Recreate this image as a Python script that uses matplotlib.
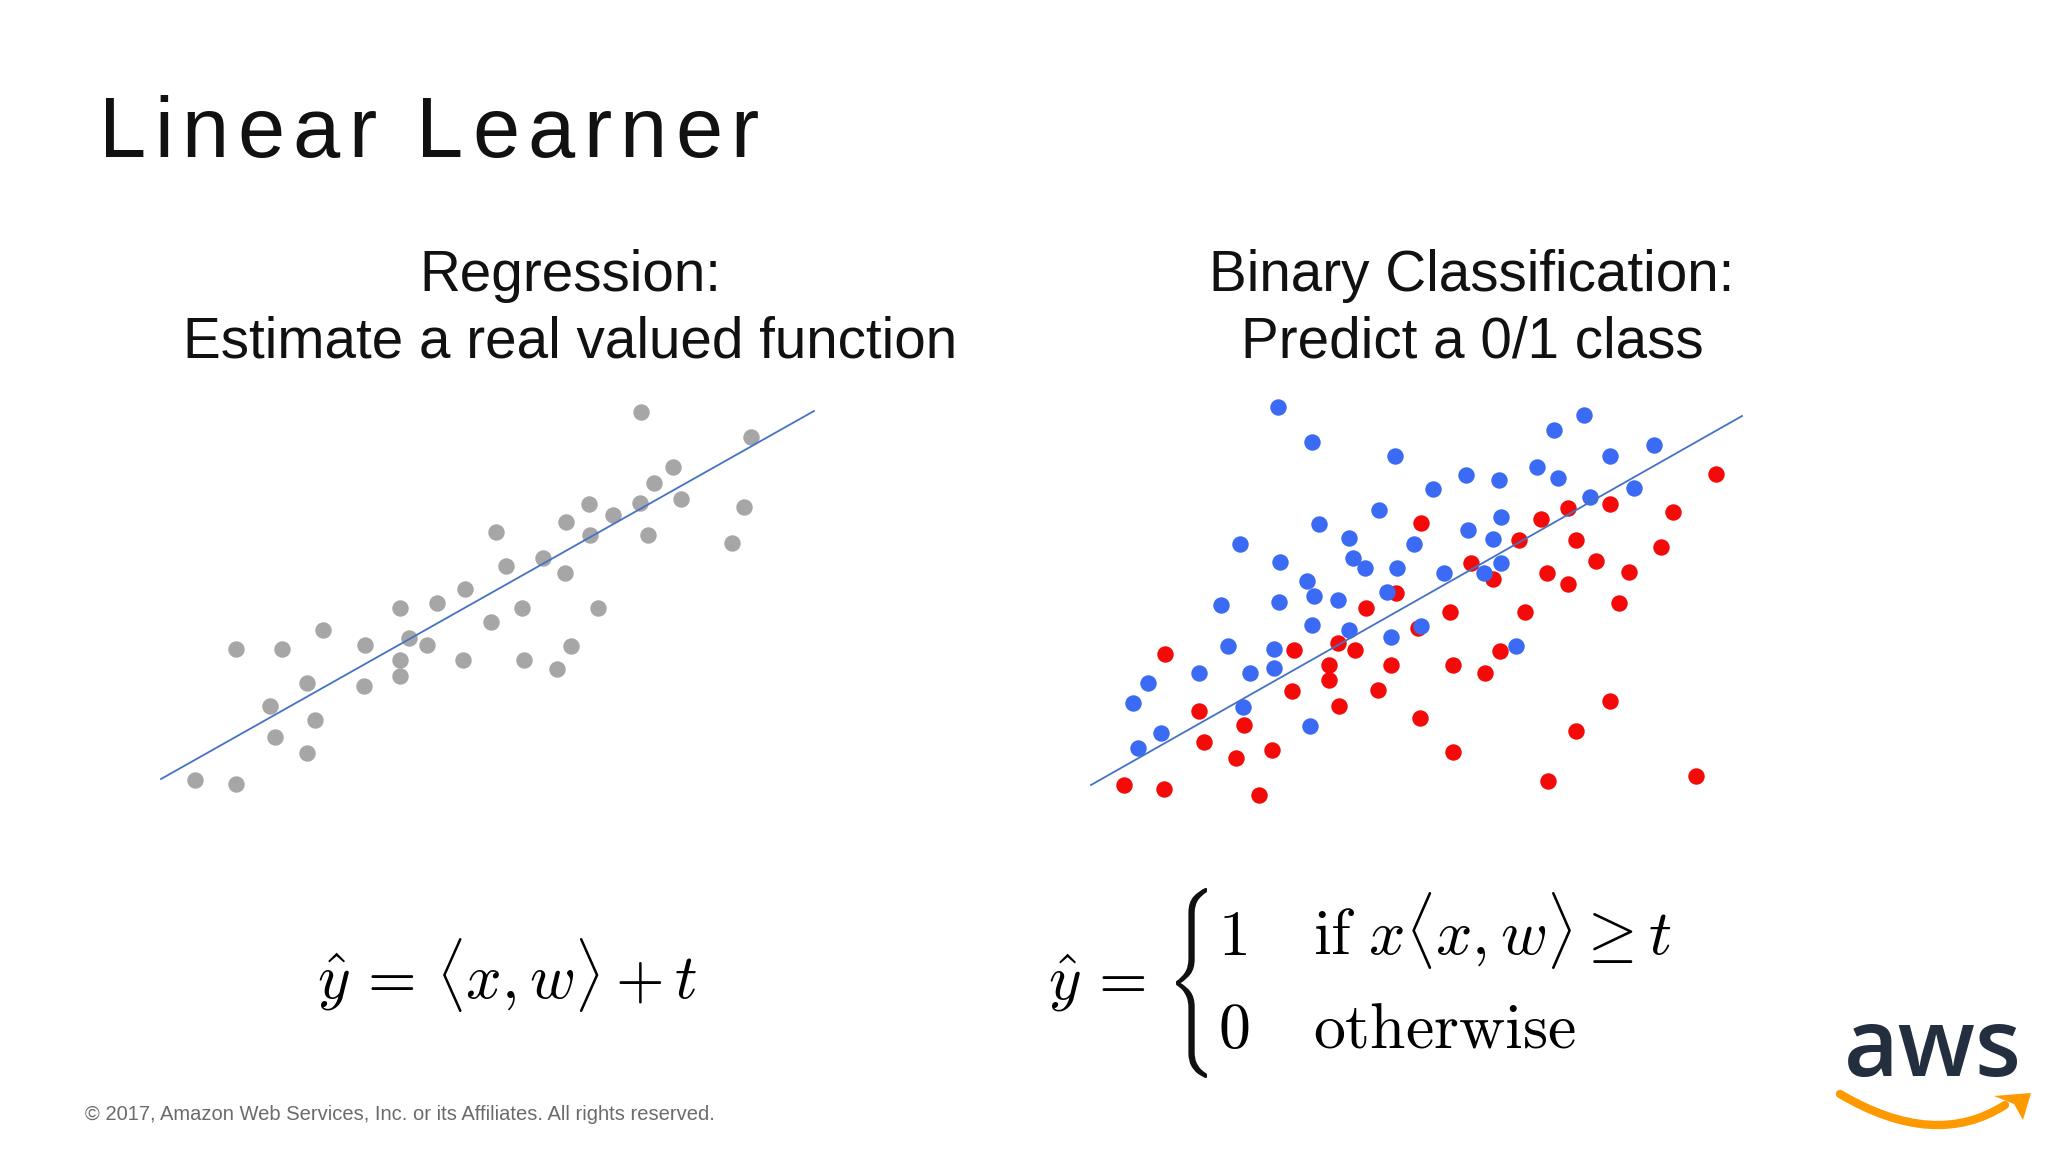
import matplotlib.pyplot as plt
from matplotlib.path import Path
from matplotlib.patches import PathPatch, Polygon
from matplotlib.textpath import TextPath
from matplotlib.font_manager import FontProperties
from matplotlib.transforms import Affine2D

plt.rcParams['mathtext.fontset'] = 'cm'

# positions, in slide pixels (x right, y down)
reg_x = [641, 751, 673, 654, 589, 640, 681, 744, 613, 566, 590, 648, 732, 496, 543,
         506, 565, 465, 437, 400, 522, 598, 491, 323, 409, 365, 427, 236, 282, 571,
         400, 463, 524, 557, 400, 307, 364, 270, 315, 275, 307, 195, 236]
reg_y = [412, 437, 467, 483, 504, 503, 499, 507, 515, 522, 535, 535, 543, 532, 558,
         566, 573, 589, 603, 608, 608, 608, 622, 630, 638, 645, 645, 649, 649, 646,
         660, 660, 660, 669, 676, 683, 686, 706, 720, 737, 753, 780, 784]
reg_line_x = [161, 814]
reg_line_y = [779, 411]

blue_x = [1278, 1312, 1395, 1554, 1584, 1654, 1610, 1537, 1558, 1466, 1499, 1433, 1634,
          1590, 1379, 1501, 1319, 1468, 1349, 1493, 1414, 1240, 1353, 1280, 1365, 1397,
          1501, 1444, 1484, 1307, 1314, 1338, 1387, 1221, 1279, 1312, 1421, 1349, 1391,
          1228, 1274, 1516, 1199, 1250, 1274, 1148, 1133, 1243, 1310, 1161, 1138]
blue_y = [407, 442, 456, 430, 415, 445, 456, 467, 478, 475, 480, 489, 488, 497, 510,
          517, 524, 530, 538, 539, 544, 544, 558, 562, 568, 568, 563, 573, 573, 581,
          596, 600, 592, 605, 602, 625, 626, 630, 637, 646, 649, 646, 673, 673, 668,
          683, 703, 707, 726, 733, 748]
red_x = [1716, 1610, 1568, 1673, 1541, 1421, 1519, 1576, 1661, 1596, 1471, 1547, 1629,
         1493, 1568, 1396, 1619, 1366, 1450, 1525, 1418, 1338, 1294, 1355, 1500, 1165,
         1329, 1391, 1453, 1485, 1329, 1292, 1378, 1610, 1199, 1339, 1244, 1420, 1576,
         1204, 1272, 1236, 1453, 1548, 1696, 1124, 1164, 1259]
red_y = [474, 504, 508, 512, 519, 523, 540, 540, 547, 561, 563, 573, 572, 579, 584,
         593, 603, 608, 612, 612, 628, 643, 650, 650, 651, 654, 665, 665, 665, 673,
         680, 691, 690, 701, 711, 706, 725, 718, 731, 742, 750, 758, 752, 781, 776,
         785, 789, 795]
cls_line_x = [1091, 1742]
cls_line_y = [785, 416]

fig = plt.figure(figsize=(20.48, 11.52), dpi=100)
ax = fig.add_axes([0, 0, 1, 1])
ax.set_xlim(0, 2048)
ax.set_ylim(1152, 0)
ax.axis('off')

dot = 140
ax.scatter(reg_x, reg_y, s=dot, color='#A6A6A6', linewidths=0, zorder=3)
ax.plot(reg_line_x, reg_line_y, color='#4472C4', lw=1.3, zorder=4)

ax.scatter(red_x, red_y, s=dot, color='#F50A0A', linewidths=0, zorder=3)
ax.scatter(blue_x, blue_y, s=dot, color='#3B6AF4', linewidths=0, zorder=3)
ax.plot(cls_line_x, cls_line_y, color='#4472C4', lw=1.3, zorder=4)


def spaced_text(x, y, s, spacing, **kw):
    # matplotlib has no letter spacing, so place the characters one by one
    r = fig.canvas.get_renderer()
    for i, ch in enumerate(s):
        if ch == ' ':
            continue
        t1 = ax.text(0, 0, s[:i + 1], **kw)
        t2 = ax.text(0, 0, ch, **kw)
        off = t1.get_window_extent(r).width - t2.get_window_extent(r).width
        t1.remove()
        t2.remove()
        ax.text(x + off + i * spacing, y, ch, **kw)


# titles
spaced_text(99, 157, "Linear Learner", 8.3, fontsize=61, family='Liberation Sans',
            color='#111111', va='baseline')
sub = dict(fontsize=40.8, family='Liberation Sans', color='#111111', ha='center', va='baseline')
ax.text(570, 291, "Regression:", **sub)
ax.text(570, 358, "Estimate a real valued function", **sub)
ax.text(1472, 291, "Binary Classification:", **sub)
ax.text(1472, 358, "Predict a 0/1 class", **sub)

# formulas
ax.text(317, 999, r"$\hat{y}\,=\,\langle x, w\rangle + t$", fontsize=45, va='baseline')
ax.text(1048, 1000, r"$\hat{y}\,=$", fontsize=45, va='baseline')
ax.text(1218, 955, r"$1$", fontsize=46, va='baseline')
ax.text(1313, 955, r"$\mathrm{if}\ x\langle x, w\rangle \geq t$", fontsize=46, va='baseline')
ax.text(1218, 1048, r"$0$", fontsize=46, va='baseline')
ax.text(1313, 1048, r"$\mathrm{otherwise}$", fontsize=46, va='baseline')

# stretched brace
bp = TextPath((0, 0), r"$\{$", size=100, prop=FontProperties(math_fontfamily='cm'))
ext = bp.get_extents()
bx0, bx1, by0, by1 = 1176, 1207, 888, 1078
tr = (Affine2D().translate(-ext.x0, -ext.y0)
      .scale((bx1 - bx0) / ext.width, -(by1 - by0) / ext.height)
      .translate(bx0, by1))
ax.add_patch(PathPatch(tr.transform_path(bp), color='#111111', lw=0))

# footer
ax.text(85, 1114, "\u00a9 2017, Amazon Web Services, Inc. or its Affiliates. All rights reserved.",
        fontsize=14.5, family='Liberation Sans', color='#6B6B6B', va='center')

# aws logo
ax.text(1933, 1076, "aws", fontsize=68, family='Open Sans', fontweight='semibold',
        color='#232F3E', ha='center', va='baseline')
smile = Path([(1840, 1094), (1935, 1150), (2005, 1105)],
             [Path.MOVETO, Path.CURVE3, Path.CURVE3])
ax.add_patch(PathPatch(smile, fill=False, edgecolor='#FF9900', lw=6, capstyle='round'))
ax.add_patch(Polygon([(1994, 1096), (2031, 1093), (2023, 1120), (2014, 1104)],
                     closed=True, color='#FF9900', lw=0))

fig.savefig('out.png', dpi=100)
